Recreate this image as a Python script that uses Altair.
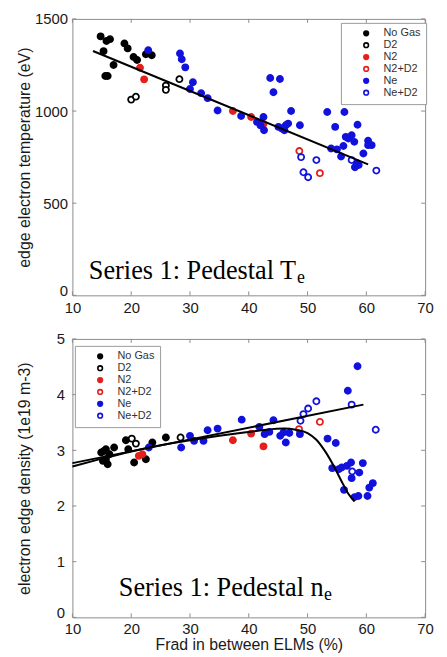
import altair as alt
import pandas as pd

# ---------------- data ----------------
categories = ["No Gas", "D2", "N2", "N2+D2", "Ne", "Ne+D2"]
stroke_colors = ["#000000", "#000000", "#e3201c", "#e3201c", "#1212dc", "#1212dc"]
fill_colors = ["#000000", "#ffffff", "#e3201c", "#ffffff", "#1212dc", "#ffffff"]

x_ticks = [10, 20, 30, 40, 50, 60, 70]
te_ticks = [0, 500, 1000, 1500]
ne_ticks = [0, 1, 2, 3, 4, 5]

# Top panel: pedestal Te (eV)
te_nogas_x = [14.8, 15.8, 16.4, 15.3, 15.6, 16.0, 17.0, 18.85, 19.4, 20.4, 21.0, 22.5, 23.5]
te_nogas_y = [1405, 1380, 1390, 1325, 1190, 1190, 1250, 1367, 1340, 1293, 1277, 1308, 1303]
te_d2_x = [20.0, 20.8, 25.9, 25.9, 28.2]
te_d2_y = [1062, 1078, 1138, 1115, 1173]
te_n2_x = [21.5, 22.2, 37.3, 40.4, 42.5]
te_n2_y = [1235, 1172, 1000, 968, 930]
te_n2d2_x = [48.6, 52.1]
te_n2d2_y = [783, 663]
te_ne_x = [22.9, 28.3, 28.6, 29.2, 30.0, 30.5, 31.9, 33.0, 34.7, 38.7, 41.4, 42.5, 42.6,
           42.0, 43.65, 45.3, 44.2, 45.05, 45.6, 46.3, 46.7, 46.06, 47.2, 48.7, 53.35,
           56.27, 54.7, 58.5, 56.5, 57.5, 57.95, 56.95, 54.0, 55.0, 55.7, 56.1, 59.5,
           60.3, 60.9, 60.3, 58.4, 58.06, 58.7]
te_ne_y = [1330, 1312, 1281, 1237, 1120, 1156, 1097, 1070, 1003, 973, 941, 968, 896,
           922, 1179, 1174, 1102, 914, 905, 923, 932, 896, 1000, 923, 995,
           995, 914, 926, 860, 869, 833, 851, 797, 792, 753, 810, 770,
           839, 815, 815, 717, 695, 707]
te_ned2_x = [48.9, 49.3, 50.1, 51.5, 57.5, 61.7]
te_ned2_y = [750, 668, 641, 734, 734, 677]
te_fit_x = [13.5, 60.3]
te_fit_y = [1326, 711]

# Bottom panel: pedestal ne (1e19 m-3)
ne_nogas_x = [14.9, 15.7, 15.7, 16.3, 17.1, 19.1, 19.5, 20.5, 22.5, 23.6, 25.9, 15.2, 16.0, 15.4]
ne_nogas_y = [2.96, 3.02, 2.84, 2.93, 3.05, 3.18, 3.02, 2.78, 2.84, 3.14, 3.23, 2.81, 2.75, 2.99]
ne_d2_x = [20.1, 20.8, 28.4]
ne_d2_y = [3.21, 3.12, 3.23]
ne_n2_x = [21.3, 21.9, 37.3, 40.4, 42.5]
ne_n2_y = [2.90, 2.93, 3.18, 3.30, 3.07]
ne_n2d2_x = [48.55, 52.1]
ne_n2d2_y = [3.38, 3.51]
ne_ne_x = [23.0, 28.5, 30.0, 30.7, 32.3, 33.0, 34.7, 38.8, 41.8, 42.7, 43.5, 44.2, 45.35,
           45.9, 46.3, 46.9, 48.7, 53.4, 54.8, 54.2, 55.3, 55.8, 56.7, 57.4, 59.4, 58.8,
           57.5, 56.2, 58.0, 58.65, 60.2, 60.5, 61.1, 56.85, 58.5]
ne_ne_y = [3.05, 3.05, 3.26, 3.17, 3.17, 3.36, 3.39, 3.55, 3.42, 3.29, 3.33, 3.54, 3.26,
           3.32, 3.14, 3.31, 3.29, 3.21, 3.13, 2.68, 2.66, 2.69, 2.72, 2.78, 2.77, 2.60,
           2.50, 2.29, 2.16, 2.18, 2.18, 2.33, 2.41, 4.07, 4.51]
ne_ned2_x = [48.8, 49.3, 50.1, 51.5, 57.5, 61.6, 57.6]
ne_ned2_y = [3.53, 3.65, 3.75, 3.88, 3.82, 3.37, 2.62]
ne_lin_x = [10, 59.5]
ne_lin_y = [2.77, 3.82]
ne_curve_x = [10, 15, 20, 25, 30, 35, 40, 43, 46, 48, 50, 51.5, 53, 54.5, 56, 57, 58]
ne_curve_y = [2.71, 2.85, 2.98, 3.09, 3.18, 3.26, 3.33, 3.37, 3.39, 3.37, 3.31, 3.19,
              2.98, 2.71, 2.40, 2.21, 2.08]

# ---------------- build tables ----------------
def points_df(groups):
    rows = []
    for cat, xs, ys in groups:
        for a, b in zip(xs, ys):
            rows.append({"x": a, "y": b, "gas": cat})
    return pd.DataFrame(rows)

te_df = points_df([
    ("No Gas", te_nogas_x, te_nogas_y), ("D2", te_d2_x, te_d2_y),
    ("N2", te_n2_x, te_n2_y), ("N2+D2", te_n2d2_x, te_n2d2_y),
    ("Ne", te_ne_x, te_ne_y), ("Ne+D2", te_ned2_x, te_ned2_y)])
ne_df = points_df([
    ("No Gas", ne_nogas_x, ne_nogas_y), ("D2", ne_d2_x, ne_d2_y),
    ("N2", ne_n2_x, ne_n2_y), ("N2+D2", ne_n2d2_x, ne_n2d2_y),
    ("Ne", ne_ne_x, ne_ne_y), ("Ne+D2", ne_ned2_x, ne_ned2_y)])

te_fit = pd.DataFrame({"x": te_fit_x, "y": te_fit_y, "fit": "linear"})
ne_fit = pd.concat([
    pd.DataFrame({"x": ne_lin_x, "y": ne_lin_y, "fit": "linear"}),
    pd.DataFrame({"x": ne_curve_x, "y": ne_curve_y, "fit": "curve"})])

W = 356
GRAY = "#8c8c8c"
FONT = "Liberation Sans"
xscale = alt.Scale(domain=[10, 70], nice=False, zero=False)
zero_baseline = {"condition": {"test": "datum.value == 0", "value": "alphabetic"},
                 "value": "middle"}


def panel(df, fit, yscale, yticks, ytitle, ytitle_pad, ylab_pad, xtitle, height,
          label, sub_dx, tx, ty, lx, ly, xlab_pad):
    if xtitle is None:
        xaxis = alt.Axis(values=x_ticks, labelFlush=False, title=None,
                         labelPadding=xlab_pad)
    else:
        xaxis = alt.Axis(values=x_ticks, labelFlush=False, title=xtitle, titlePadding=0,
                         labelPadding=xlab_pad)
    yaxis = alt.Axis(values=yticks, labelFlush=False, title=ytitle, format="d",
                     titlePadding=ytitle_pad, labelPadding=ylab_pad,
                     labelBaseline=zero_baseline)
    X = lambda f: alt.X(f, scale=xscale, axis=xaxis)
    Y = lambda f: alt.Y(f, scale=yscale, axis=yaxis)
    legend = alt.Legend(title=None, orient="none", legendX=lx, legendY=ly,
                        fillColor="white", strokeColor="#9a9a9a", padding=5,
                        symbolType="circle", symbolSize=22, symbolStrokeWidth=1.6,
                        labelFont=FONT, labelFontSize=11, labelColor="#333",
                        rowPadding=-3, labelOffset=12, symbolOffset=15,
                        labelExpr="datum.label + '  '")
    pts = alt.Chart(df).mark_point(filled=True, shape="circle", size=38,
                                   strokeWidth=1.8, opacity=1).encode(
        x=X("x:Q"), y=Y("y:Q"),
        fill=alt.Fill("gas:N", scale=alt.Scale(domain=categories, range=fill_colors),
                      legend=legend),
        stroke=alt.Stroke("gas:N", scale=alt.Scale(domain=categories, range=stroke_colors),
                          legend=legend),
    )
    lines = alt.Chart(fit).mark_line(color="black", strokeWidth=2,
                                     interpolate="monotone").encode(
        x=X("x:Q"), y=Y("y:Q"), detail="fit:N")
    tdf = pd.DataFrame({"x": [tx], "y": [ty], "t": [label], "s": ["e"]})
    txt = alt.Chart(tdf).mark_text(font="Liberation Serif", fontSize=26.5, align="left",
                                   baseline="alphabetic", color="black").encode(
        x=X("x:Q"), y=Y("y:Q"), text="t:N")
    sub = alt.Chart(tdf).mark_text(font="Liberation Serif", fontSize=18, align="left",
                                   baseline="alphabetic", color="black", dx=sub_dx,
                                   dy=4).encode(
        x=X("x:Q"), y=Y("y:Q"), text="s:N")
    xt = pd.DataFrame({"x": x_ticks})
    yt = pd.DataFrame({"y": yticks})
    tb = alt.Chart(xt).mark_rule(color=GRAY).encode(
        x=X("x:Q"), y=alt.value(height), y2=alt.value(height - 4))
    tt = alt.Chart(xt).mark_rule(color=GRAY).encode(
        x=X("x:Q"), y=alt.value(0), y2=alt.value(4))
    tl = alt.Chart(yt).mark_rule(color=GRAY).encode(
        y=Y("y:Q"), x=alt.value(0), x2=alt.value(4))
    tr = alt.Chart(yt).mark_rule(color=GRAY).encode(
        y=Y("y:Q"), x=alt.value(W - 4), x2=alt.value(W))
    return alt.layer(pts, lines, txt, sub, tb, tt, tl, tr).properties(width=W, height=height)


top = panel(te_df, te_fit, alt.Scale(domain=[0, 1500], nice=False), te_ticks,
            "edge electron temperature (eV)", 2, 5, None, 279,
            "Series 1: Pedestal T", 210, 12.8, 89, 271, 4, 5)
bottom = panel(ne_df, ne_fit, alt.Scale(domain=[0, 5], nice=False), ne_ticks,
               "electron edge density (1e19 m-3)", 24, 8, "Frad in between ELMs (%)", 281,
               "Series 1: Pedestal n", 207, 17.9, 0.375, 2.5, 7, 4)

chart = alt.vconcat(top, bottom, spacing=15).resolve_scale(
    fill="independent", stroke="independent").resolve_legend(
    fill="independent", stroke="independent").properties(
    padding={"left": 8, "top": 0, "right": 5, "bottom": 0}
).configure_view(stroke=GRAY, strokeWidth=1).configure_axis(
    grid=False, domain=False, ticks=False, tickSize=0, labelFont=FONT, labelFontSize=15,
    labelColor="#1a1a1a", titleFont=FONT, titleFontSize=16, titleFontWeight="normal",
    titleColor="#1a1a1a")

chart.save("out.html", embed_options={"renderer": "svg", "actions": False})
